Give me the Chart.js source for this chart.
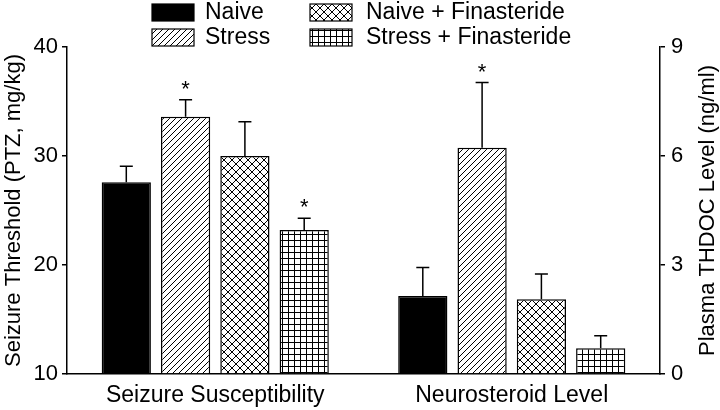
<!DOCTYPE html>
<html>
<head>
<meta charset="utf-8">
<script src="https://cdn.jsdelivr.net/npm/chart.js@4.4.0/dist/chart.umd.min.js"></script>
<style>
  html, body { margin: 0; padding: 0; background: #fff; }
</style>
</head>
<body>
<canvas id="myChart" width="720" height="410"></canvas>
<script>
// dati
const categories = ['Seizure Susceptibility', 'Neurosteroid Level'];
const seriesNames = ['Naive', 'Stress', 'Naive + Finasteride', 'Stress + Finasteride'];
const seizureMean = [27.6, 33.6, 30.0, 23.2];
const seizureErr = [1.45, 1.55, 3.15, 1.1];
const thdocMean = [2.15, 6.23, 2.06, 0.71];
const thdocErr = [0.78, 1.79, 0.69, 0.34];
const seizureSig = [false, true, false, true];
const thdocSig = [false, true, false, false];
const leftTicks = [10, 20, 30, 40];
const rightTicks = [0, 3, 6, 9];
const rightTitle = 'Plasma THDOC Level (ng/ml)';

const FONT = '"Liberation Sans", Arial, sans-serif';

// pattern per i riempimenti (righe, rombi, griglia)
function makePattern(kind) {
  const s = kind === 'cross' ? 8 : 6;
  const c = document.createElement('canvas');
  c.width = s; c.height = s;
  const g = c.getContext('2d');
  g.fillStyle = '#fff';
  g.fillRect(0, 0, s, s);
  g.strokeStyle = '#000';
  g.lineWidth = 1;
  g.beginPath();
  if (kind === 'diag' || kind === 'cross') {
    g.moveTo(0, s); g.lineTo(s, 0);
    g.moveTo(-1, 1); g.lineTo(1, -1);
    g.moveTo(s - 1, s + 1); g.lineTo(s + 1, s - 1);
  }
  if (kind === 'cross') {
    g.moveTo(0, 0); g.lineTo(s, s);
    g.moveTo(-1, s - 1); g.lineTo(1, s + 1);
    g.moveTo(s - 1, -1); g.lineTo(s + 1, 1);
  }
  if (kind === 'grid') {
    g.moveTo(0.5, 0); g.lineTo(0.5, s);
    g.moveTo(0, 0.5); g.lineTo(s, 0.5);
  }
  g.stroke();
  return g.createPattern(c, 'repeat');
}

const fills = ['#000', makePattern('diag'), makePattern('cross'), makePattern('grid')];

const datasets = [];
seriesNames.forEach((name, i) => {
  datasets.push({
    label: name, data: [seizureMean[i], null], yAxisID: 'yLeft', base: 10,
    backgroundColor: fills[i], borderColor: '#000', borderWidth: 1.5,
    errs: [seizureErr[i], null], sig: [seizureSig[i], false]
  });
});
seriesNames.forEach((name, i) => {
  datasets.push({
    label: name, data: [null, thdocMean[i]], yAxisID: 'yRight', base: 0,
    backgroundColor: fills[i], borderColor: '#000', borderWidth: 1.5,
    errs: [null, thdocErr[i]], sig: [false, thdocSig[i]]
  });
});

// barre di errore (solo verso l'alto) e asterischi
const errorBars = {
  id: 'errorBars',
  afterDatasetsDraw(chart) {
    const ctx = chart.ctx;
    ctx.save();
    ctx.strokeStyle = '#000';
    ctx.lineWidth = 1.5;
    ctx.fillStyle = '#000';
    ctx.font = '22px ' + FONT;
    ctx.textAlign = 'center';
    ctx.textBaseline = 'alphabetic';
    chart.data.datasets.forEach((ds, di) => {
      const meta = chart.getDatasetMeta(di);
      const yScale = chart.scales[ds.yAxisID];
      ds.data.forEach((v, j) => {
        if (v === null) return;
        const bar = meta.data[j];
        const top = yScale.getPixelForValue(v + ds.errs[j]);
        ctx.beginPath();
        ctx.moveTo(bar.x, bar.y);
        ctx.lineTo(bar.x, top);
        ctx.moveTo(bar.x - 6.5, top);
        ctx.lineTo(bar.x + 6.5, top);
        ctx.stroke();
        if (ds.sig[j]) ctx.fillText('*', bar.x, top - 4);
      });
    });
    ctx.restore();
  }
};

// legenda su due colonne + titolo asse destro (letto dal basso verso l'alto)
const legend2 = {
  id: 'legend2',
  afterDraw(chart) {
    const ctx = chart.ctx;
    const cols = [152, 310];
    const rows = [4, 29];
    ctx.save();
    ctx.font = '23px ' + FONT;
    ctx.textBaseline = 'middle';
    ctx.textAlign = 'left';
    seriesNames.forEach((name, i) => {
      const col = (i === 0 || i === 1) ? 0 : 1;
      const row = (i === 0 || i === 2) ? 0 : 1;
      const bx = cols[col], by = rows[row];
      ctx.fillStyle = fills[i];
      ctx.fillRect(bx, by, 42, 17);
      ctx.strokeStyle = '#000';
      ctx.lineWidth = 1.2;
      ctx.strokeRect(bx, by, 42, 17);
      ctx.fillStyle = '#000';
      ctx.fillText(name, bx + (col === 0 ? 53 : 56), by + 9);
    });

    const area = chart.chartArea;
    ctx.translate(708, (area.top + area.bottom) / 2);
    ctx.rotate(-Math.PI / 2);
    ctx.font = '22px ' + FONT;
    ctx.textAlign = 'center';
    ctx.fillText(rightTitle, 0, 0);
    ctx.restore();
  }
};

const ctx = document.getElementById('myChart');
const myChart = new Chart(ctx, {
  type: 'bar',
  data: { labels: categories, datasets: datasets },
  options: {
    responsive: false,
    animation: false,
    skipNull: true,
    categoryPercentage: 0.8,
    barPercentage: 0.83,
    layout: { padding: { top: 47, left: 0, right: 0, bottom: 0 } },
    plugins: { legend: { display: false }, tooltip: { enabled: false } },
    scales: {
      x: {
        type: 'category',
        offset: true,
        grid: { display: false, drawTicks: false },
        border: { display: true, color: '#000', width: 1.5 },
        ticks: { color: '#000', font: { family: FONT, size: 23 }, padding: 8, maxRotation: 0 },
        afterFit: s => { s.height = 36; }
      },
      yLeft: {
        position: 'left',
        min: 10, max: 40,
        afterBuildTicks: s => { s.ticks = leftTicks.map(v => ({ value: v })); },
        grid: { drawOnChartArea: false, drawTicks: true, tickLength: 5, color: '#000', lineWidth: 1.5 },
        border: { display: true, color: '#000', width: 1.5 },
        ticks: { color: '#000', font: { family: FONT, size: 22 }, padding: 4 },
        title: { display: true, text: 'Seizure Threshold (PTZ, mg/kg)', color: '#000',
                 font: { family: FONT, size: 22 }, padding: { top: 1, bottom: 0 } },
        afterFit: s => { s.width = 67; }
      },
      yRight: {
        position: 'right',
        min: 0, max: 9,
        afterBuildTicks: s => { s.ticks = rightTicks.map(v => ({ value: v })); },
        grid: { drawOnChartArea: false, drawTicks: true, tickLength: 5, color: '#000', lineWidth: 1.5 },
        border: { display: true, color: '#000', width: 1.5 },
        ticks: { color: '#000', font: { family: FONT, size: 22 }, padding: 6 },
        afterFit: s => { s.width = 60; }
      }
    }
  },
  plugins: [errorBars, legend2]
});
</script>
</body>
</html>
